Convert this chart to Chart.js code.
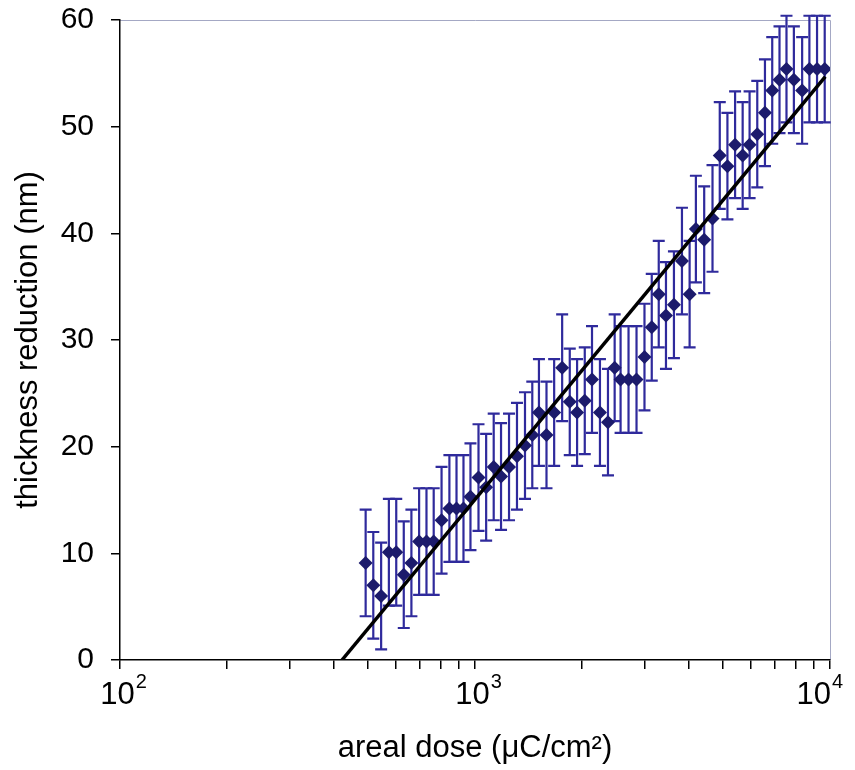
<!DOCTYPE html>
<html>
<head>
<meta charset="utf-8">
<script src="https://cdn.jsdelivr.net/npm/chart.js@4.4.1/dist/chart.umd.min.js"></script>
<style>
  body { margin: 0; background: #fff; }
</style>
</head>
<body>
<canvas id="doseChart" width="855" height="770"></canvas>
<script>
// areal dose (µC/cm2)
const doseX = [492, 517, 544, 572, 600, 630, 662, 696, 730, 765,
	805, 847, 887, 928, 971, 1023, 1075, 1129, 1184, 1247,
	1313, 1383, 1450, 1514, 1590, 1671, 1760, 1849, 1939, 2038,
	2136, 2249, 2369, 2474, 2571, 2707, 2851, 3002, 3147, 3293,
	3451, 3634, 3828, 4023, 4190, 4422, 4667, 4892, 5141, 5403,
	5675, 5936, 6239, 6558, 6875, 7207, 7541, 7911, 8347, 8749,
	9194, 9663];
// thickness reduction (nm)
const thickY = [9.1, 7.0, 6.0, 10.1, 10.1, 8.0, 9.1, 11.1, 11.1, 11.1,
	13.1, 14.2, 14.2, 14.2, 15.3, 17.1, 16.2, 18.1, 17.2, 18.1,
	19.1, 20.1, 21.1, 23.2, 21.1, 23.2, 27.4, 24.2, 23.2, 24.3,
	26.3, 23.2, 22.3, 27.4, 26.3, 26.3, 26.3, 28.4, 31.2, 34.3,
	32.3, 33.3, 37.4, 34.3, 40.4, 39.4, 41.4, 47.3, 46.3, 48.3,
	47.3, 48.3, 49.3, 51.3, 53.4, 54.4, 55.4, 54.4, 53.4, 55.4,
	55.4, 55.4];
const errorBar = 5; // +/- nm, same for every point

// fitted line end points
const fitX = [422, 9700];
const fitY = [0, 54.7];

const yTicks = [0, 10, 20, 30, 40, 50, 60];
const xTicks = [100, 200, 300, 400, 500, 600, 700, 800, 900,
	1000, 2000, 3000, 4000, 5000, 6000, 7000, 8000, 9000, 10000];
const xMajor = [100, 1000, 10000];
const xLabelBase = ['10', '10', '10'];
const xLabelExp = ['2', '3', '4'];

const FONT = '"Liberation Sans", Arial, sans-serif';

const errorBars = {
	id: 'errorBars',
	beforeDatasetsDraw(chart) {
		const { ctx, scales: { x, y } } = chart;
		ctx.save();
		ctx.strokeStyle = '#2f2a9c';
		ctx.lineWidth = 2.2;
		doseX.forEach((d, i) => {
			const px = x.getPixelForValue(d);
			const top = y.getPixelForValue(thickY[i] + errorBar);
			const bot = y.getPixelForValue(thickY[i] - errorBar);
			ctx.beginPath();
			ctx.moveTo(px, top); ctx.lineTo(px, bot);
			ctx.moveTo(px - 6, top); ctx.lineTo(px + 6, top);
			ctx.moveTo(px - 6, bot); ctx.lineTo(px + 6, bot);
			ctx.stroke();
		});
		ctx.restore();
	}
};

const frameAndLabels = {
	id: 'frameAndLabels',
	beforeDraw(chart) {
		const { ctx, chartArea: a } = chart;
		ctx.save();
		ctx.strokeStyle = '#a4a8c4';
		ctx.lineWidth = 1;
		ctx.beginPath();
		ctx.moveTo(a.left, a.top + 0.5);
		ctx.lineTo(a.right + 0.5, a.top + 0.5);
		ctx.lineTo(a.right + 0.5, a.bottom);
		ctx.stroke();
		ctx.restore();
	},
	afterDraw(chart) {
		const { ctx, scales: { x } } = chart;
		ctx.save();
		ctx.fillStyle = '#000';
		ctx.textBaseline = 'middle';
		ctx.textAlign = 'left';
		xMajor.forEach((v, i) => {
			const px = x.getPixelForValue(v);
			ctx.font = '31px ' + FONT;
			const wb = ctx.measureText(xLabelBase[i]).width;
			ctx.font = '20px ' + FONT;
			const we = ctx.measureText(xLabelExp[i]).width;
			let left = px - (wb + we) / 2 + 3;
			if (left + wb + we > 842) left = 842 - wb - we;
			ctx.font = '31px ' + FONT;
			ctx.fillText(xLabelBase[i], left, 695);
			ctx.font = '20px ' + FONT;
			ctx.fillText(xLabelExp[i], left + wb + 1, 682);
		});
		ctx.restore();
	}
};

new Chart(document.getElementById('doseChart'), {
	type: 'scatter',
	data: {
		datasets: [
			{
				label: 'fit',
				data: fitX.map((v, i) => ({ x: v, y: fitY[i] })),
				showLine: true,
				borderColor: '#000',
				borderWidth: 3.5,
				pointRadius: 0,
				order: 0
			},
			{
				label: 'thickness reduction',
				data: doseX.map((v, i) => ({ x: v, y: thickY[i] })),
				pointStyle: 'rectRot',
				pointRadius: 7,
				backgroundColor: '#1c1b6c',
				borderColor: '#1c1b6c',
				borderWidth: 0,
				order: 1
			}
		]
	},
	options: {
		responsive: false,
		animation: false,
		layout: { padding: { top: 20, right: 25, left: 0, bottom: 0 } },
		plugins: {
			legend: { display: false },
			tooltip: { enabled: false }
		},
		scales: {
			x: {
				type: 'logarithmic',
				min: 100,
				max: 10000,
				afterBuildTicks: s => { s.ticks = xTicks.map(v => ({ value: v })); },
				afterFit: s => { s.height = 110; s.paddingLeft = 0; s.paddingRight = 0; },
				ticks: { display: false },
				grid: { drawOnChartArea: false, drawTicks: true, tickLength: 9, color: '#000', lineWidth: 1.5 },
				border: { display: true, color: '#000', width: 1.5 },
				title: {
					display: true,
					text: 'areal dose (μC/cm²)',
					color: '#000',
					font: { family: FONT, size: 31 },
					padding: { top: 0, bottom: 3 }
				}
			},
			y: {
				min: 0,
				max: 60,
				afterBuildTicks: s => { s.ticks = yTicks.map(v => ({ value: v })); },
				afterFit: s => { s.width = 120; s.paddingTop = 0; s.paddingBottom = 0; },
				ticks: { color: '#000', font: { family: FONT, size: 30 }, padding: 17 },
				grid: { drawOnChartArea: false, drawTicks: true, tickLength: 9, color: '#000', lineWidth: 1.5 },
				border: { display: true, color: '#000', width: 1.5 },
				title: {
					display: true,
					text: 'thickness reduction (nm)',
					color: '#000',
					font: { family: FONT, size: 31 },
					padding: { top: 10, bottom: 0 }
				}
			}
		}
	},
	plugins: [errorBars, frameAndLabels]
});
</script>
</body>
</html>
